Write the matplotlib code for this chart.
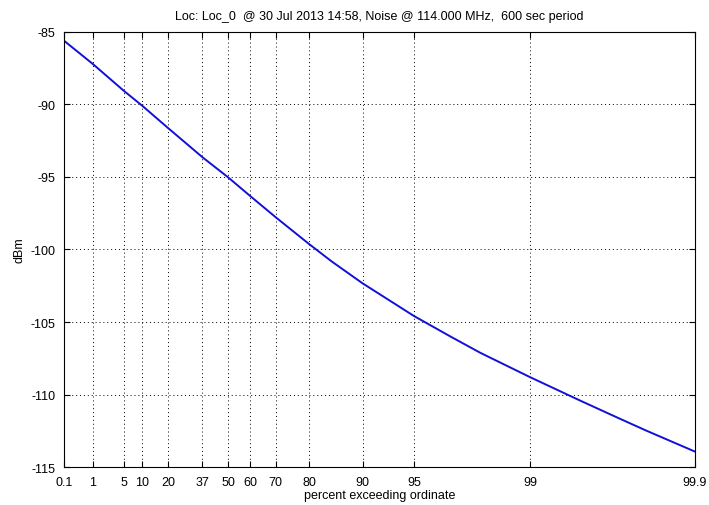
import numpy as np
import matplotlib
matplotlib.use("Agg")
import matplotlib.pyplot as plt

plt.rcParams['font.family'] = ['Liberation Sans', 'DejaVu Sans']
plt.rcParams['axes.unicode_minus'] = False

# percent exceeding ordinate (x) and level in dBm (y)
percent = [0.1, 1, 5, 10, 20, 30, 37, 50, 60, 70, 80, 85, 90, 95, 97, 98, 99,
           99.5, 99.7, 99.8, 99.9]
dbm = [-85.62, -87.23, -89.06, -90.11, -91.63, -92.84, -93.64, -95.03, -96.3,
       -97.77, -99.62, -100.82, -102.33, -104.58, -106.02, -107.12, -108.8,
       -110.4, -111.55, -112.45, -113.92]

xticks = [0.1, 1, 5, 10, 20, 37, 50, 60, 70, 80, 90, 95, 99, 99.9]
xtick_labels = ['0.1', '1', '5', '10', '20', '37', '50', '60', '70', '80',
                '90', '95', '99', '99.9']
yticks = [-115, -110, -105, -100, -95, -90, -85]

title = "Loc: Loc_0  @ 30 Jul 2013 14:58, Noise @ 114.000 MHz,  600 sec period"


def fwd(p):
    p = np.clip(np.asarray(p, dtype=float), 1e-6, 100 - 1e-9)
    return -np.log10(-np.log(p / 100.0))


def inv(t):
    t = np.asarray(t, dtype=float)
    return 100.0 * np.exp(-10.0 ** (-t))


fig = plt.figure(figsize=(7.09, 5.06), dpi=100)
ax = fig.add_axes([64 / 709, 1 - 468.3 / 506, (695 - 64) / 709, (468.3 - 32.7) / 506])
ax.set_xscale('function', functions=(fwd, inv))
ax.plot(percent, dbm, color='#1010d8', lw=1.4)
ax.set_xlim(0.1, 99.9)
ax.set_ylim(-115, -85)
ax.set_xticks(xticks)
ax.set_xticklabels(xtick_labels)
ax.xaxis.set_minor_locator(matplotlib.ticker.NullLocator())
ax.set_yticks(yticks)
ax.grid(True, color='black', linestyle=(0, (1, 3)), linewidth=0.7)
ax.tick_params(direction='in', top=True, right=True, length=4, width=0.8,
               labelsize=9)
ax.tick_params(axis='x', pad=6)
ax.tick_params(axis='y', pad=6)
for s in ax.spines.values():
    s.set_linewidth(0.8)
ax.set_title(title, fontsize=9, pad=9)
ax.set_xlabel('percent exceeding ordinate', fontsize=9, labelpad=1)
ax.set_ylabel('dBm', fontsize=9, labelpad=4)

fig.savefig('out.png', dpi=100)
